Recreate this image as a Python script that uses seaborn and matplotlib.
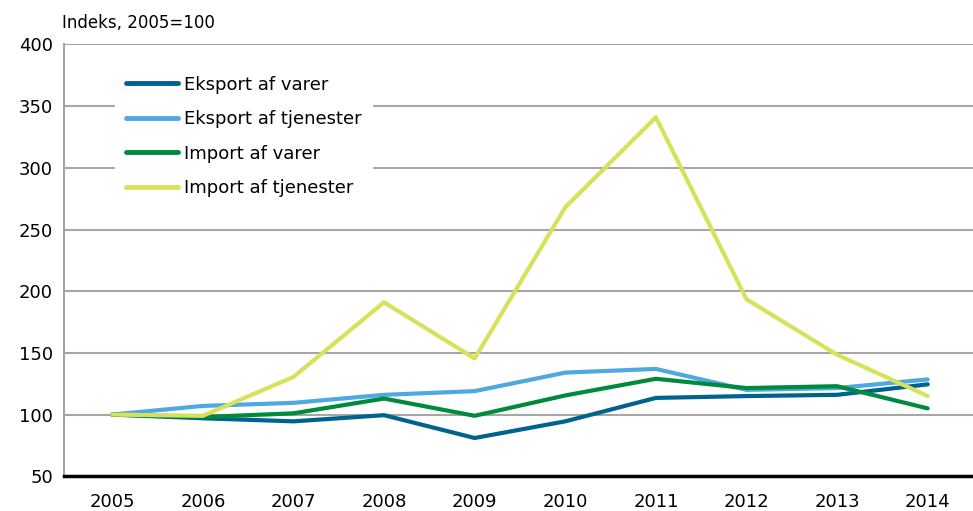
import pandas as pd
import matplotlib.pyplot as plt
import seaborn as sns

sns.set_theme(style="white")
plt.rcParams['font.family'] = ['Liberation Sans Narrow', 'DejaVu Sans']

# data
years = ['2005', '2006', '2007', '2008', '2009', '2010', '2011', '2012', '2013', '2014']
eksport_varer = [100, 97, 94.5, 99.5, 81, 94.5, 113.5, 115, 116, 124.5]
eksport_tjenester = [100, 107, 109.5, 116, 119, 134, 137, 120, 121.5, 128.5]
import_varer = [100, 98, 101, 113, 99, 115.5, 129, 121.5, 123, 105]
import_tjenester = [100, 99, 130.5, 191, 145.5, 268, 341, 193.5, 148.5, 115]

series = ['Eksport af varer', 'Eksport af tjenester', 'Import af varer', 'Import af tjenester']
farver = ['#00628f', '#4ea9e0', '#008a3e', '#d7e15a']

df = pd.DataFrame({
    'år': years * 4,
    'indeks': eksport_varer + eksport_tjenester + import_varer + import_tjenester,
    'serie': [s for s in series for _ in years],
})

fig = plt.figure(figsize=(9.73, 5.11), dpi=100)
ax = fig.add_axes([0.066, 0.068, 0.934, 0.845])

sns.lineplot(data=df, x='år', y='indeks', hue='serie', palette=farver,
             linewidth=3, ax=ax, sort=False)

ax.set_ylim(50, 400)
ax.set_yticks(range(50, 401, 50))
ax.set_xlim(-0.53, 9.5)
ax.yaxis.grid(True, color='#a6a6a6', linewidth=1.5)
ax.set_axisbelow(True)
ax.set_xlabel('')
ax.set_ylabel('')
ax.tick_params(axis='both', labelsize=13, length=0, colors='black')
ax.tick_params(axis='x', pad=12)
ax.tick_params(axis='y', pad=8)

for s in ['top', 'right']:
    ax.spines[s].set_visible(False)
ax.spines['left'].set_color('#a6a6a6')
ax.spines['left'].set_linewidth(1.5)
ax.spines['bottom'].set_color('black')
ax.spines['bottom'].set_linewidth(2.5)

fig.text(0.064, 0.955, 'Indeks, 2005=100', fontsize=12, va='center', ha='left', color='black')

leg = ax.legend(loc='upper left', bbox_to_anchor=(0.046, 0.974), frameon=True,
                fontsize=13, handlelength=2.9, handletextpad=0.3,
                labelspacing=0.92, borderpad=0.6)
leg.get_frame().set_facecolor('white')
leg.get_frame().set_edgecolor('white')
leg.get_frame().set_alpha(1)
leg.get_frame().set_boxstyle('square', pad=0)
for line in leg.get_lines():
    line.set_linewidth(3.5)
for t in leg.get_texts():
    t.set_color('black')

fig.savefig('out.png', dpi=100)
